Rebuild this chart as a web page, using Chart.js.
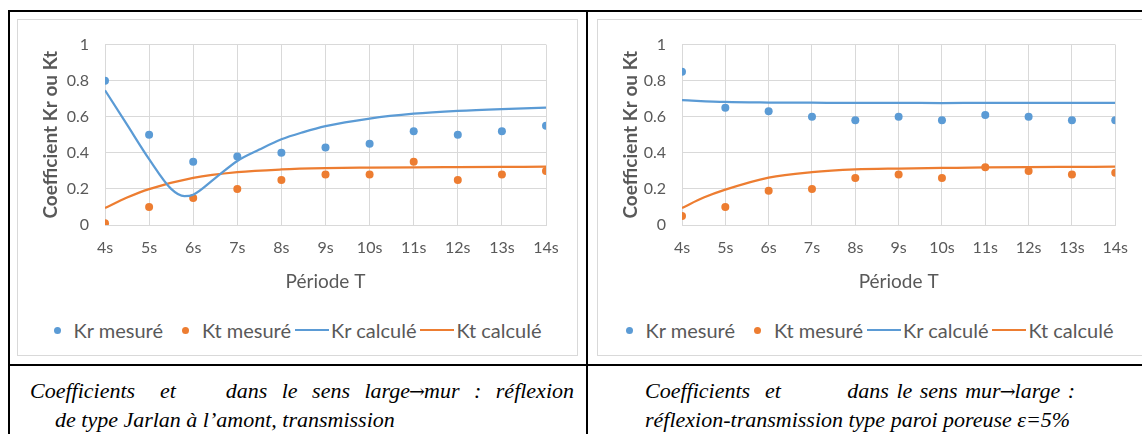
<!DOCTYPE html>
<html>
<head>
<meta charset="utf-8">
<script src="https://cdn.jsdelivr.net/npm/chart.js@4.4.1/dist/chart.umd.min.js"></script>
<style>
  body { margin: 0; width: 1142px; height: 434px; background: #fff; position: relative; overflow: hidden; }
  .rule { position: absolute; background: #000; }
  .box { position: absolute; border: 1px solid #d9d9d9; box-sizing: border-box; }
  canvas { position: absolute; }
  .legend { position: absolute; top: 319px; height: 22px; display: flex; justify-content: center; align-items: center;
            font-family: Lato, sans-serif; font-size: 20px; color: #595959; white-space: nowrap; }
  .legend .dot { display: inline-block; width: 7px; height: 7px; border-radius: 50%; margin-right: 13px; }
  .legend .seg { display: inline-block; width: 34px; height: 2px; margin-right: 2px; }
  .legend .item { display: flex; align-items: center; margin-right: 19px; }
  .legend .item.ln { margin-right: 4px; }
  .cap { position: absolute; font-family: 'Liberation Serif', 'Times New Roman', serif; font-style: italic;
         font-size: 22px; line-height: 29px; white-space: nowrap; color: #000; }
  .arr { font-family: 'DejaVu Serif', serif; font-style: normal; font-size: 19px; margin: 0 -1px; }
</style>
</head>
<body>
<div class="rule" style="left:8px; top:10px; width:1134px; height:2px"></div>
<div class="rule" style="left:8px; top:10px; width:2px; height:424px"></div>
<div class="rule" style="left:586px; top:10px; width:2px; height:424px"></div>
<div class="rule" style="left:8px; top:364px; width:1134px; height:2px"></div>

<div class="box" style="left:17px; top:19px; width:561px; height:337px"></div>
<div class="box" style="left:597px; top:19px; width:546px; height:337px"></div>

<canvas id="chartA" width="560" height="274" style="left:17px; top:19px"></canvas>
<canvas id="chartB" width="544" height="274" style="left:597px; top:19px"></canvas>

<div class="legend" id="legendA" style="left:27px; width:560px"></div>
<div class="legend" id="legendB" style="left:607px; width:544px"></div>

<div class="cap" style="left:30px; top:376px">Coefficients</div>
<div class="cap" style="left:160px; top:376px">et</div>
<div class="cap" style="right:568px; top:376px; word-spacing:9px">dans le sens large<span class="arr">→</span>mur : réflexion</div>
<div class="cap" style="left:55px; top:405px">de type Jarlan à l’amont, transmission</div>

<div class="cap" style="left:645px; top:376px">Coefficients</div>
<div class="cap" style="left:765px; top:376px">et</div>
<div class="cap" style="right:67px; top:376px; word-spacing:2px">dans le sens mur<span class="arr">→</span>large :</div>
<div class="cap" style="left:645px; top:405px">réflexion-transmission type paroi poreuse ε=5%</div>

<script>
// periods (s) and tick labels
const periods = [4, 5, 6, 7, 8, 9, 10, 11, 12, 13, 14]
const periodLabels = ['4s', '5s', '6s', '7s', '8s', '9s', '10s', '11s', '12s', '13s', '14s']
const seriesNames = ['Kr mesuré', 'Kt mesuré', 'Kr calculé', 'Kt calculé']

// left chart : large -> mur
const krMesureA = [0.80, 0.50, 0.35, 0.38, 0.40, 0.43, 0.45, 0.52, 0.50, 0.52, 0.55]
const ktMesureA = [0.01, 0.10, 0.15, 0.20, 0.25, 0.28, 0.28, 0.35, 0.25, 0.28, 0.30]
const krCalcPeriodsA = [4, 4.5, 5, 5.5, 5.8, 6, 6.5, 7, 7.5, 8, 8.5, 9, 10, 11, 12, 13, 14]
const krCalculeA = [0.747, 0.556, 0.365, 0.20, 0.16, 0.168, 0.26, 0.355, 0.418, 0.475, 0.515, 0.548, 0.59, 0.617, 0.633, 0.643, 0.65]
const ktCalcPeriodsA = [4, 4.5, 5, 6, 7, 8, 9, 10, 11, 12, 13, 14]
const ktCalculeA = [0.094, 0.152, 0.199, 0.261, 0.293, 0.308, 0.315, 0.318, 0.32, 0.321, 0.322, 0.323]

// right chart : mur -> large
const krMesureB = [0.85, 0.65, 0.63, 0.60, 0.58, 0.60, 0.58, 0.61, 0.60, 0.58, 0.58]
const ktMesureB = [0.05, 0.10, 0.19, 0.20, 0.26, 0.28, 0.26, 0.32, 0.30, 0.28, 0.29]
const krCalcPeriodsB = [4, 5, 6, 7, 8, 9, 10, 11, 12, 13, 14]
const krCalculeB = [0.692, 0.682, 0.679, 0.678, 0.677, 0.677, 0.676, 0.677, 0.677, 0.677, 0.677]
const ktCalcPeriodsB = [4, 4.5, 5, 6, 7, 8, 9, 10, 11, 12, 13, 14]
const ktCalculeB = [0.094, 0.152, 0.196, 0.263, 0.293, 0.308, 0.313, 0.316, 0.319, 0.321, 0.322, 0.323]

const blue = '#5b9bd5'
const orange = '#ed7d31'
const grey = '#595959'
const gridColor = '#d9d9d9'

const pts = (xs, ys) => xs.map((x, i) => ({ x: x, y: ys[i] }))

function buildChart(id, krM, ktM, krCx, krC, ktCx, ktC, padLeft, yWidth, padRight) {
  const datasets = [
    { label: seriesNames[0], data: pts(periods, krM), showLine: false, pointRadius: 4, pointHoverRadius: 4,
      backgroundColor: blue, borderColor: blue, borderWidth: 0, order: 2 },
    { label: seriesNames[1], data: pts(periods, ktM), showLine: false, pointRadius: 4, pointHoverRadius: 4,
      backgroundColor: orange, borderColor: orange, borderWidth: 0, order: 2 },
    { label: seriesNames[2], data: pts(krCx, krC), showLine: true, pointRadius: 0, borderColor: blue,
      borderWidth: 2.25, cubicInterpolationMode: 'monotone', order: 1 },
    { label: seriesNames[3], data: pts(ktCx, ktC), showLine: true, pointRadius: 0, borderColor: orange,
      borderWidth: 2.25, cubicInterpolationMode: 'monotone', order: 1 }
  ]
  const chart = new Chart(document.getElementById(id), {
    type: 'scatter',
    data: { datasets: datasets },
    options: {
      responsive: false,
      animation: false,
      events: [],
      layout: { padding: { left: padLeft, right: padRight, top: 18.5, bottom: 0 } },
      plugins: { legend: { display: false }, tooltip: { enabled: false } },
      scales: {
        x: {
          type: 'linear', min: 4, max: 14,
          afterFit: (s) => { s.height = 68 },
          grid: { color: gridColor, drawTicks: false },
          border: { color: gridColor },
          ticks: {
            stepSize: 1, padding: 13, maxRotation: 0, autoSkip: false, color: grey,
            font: { family: 'Lato', size: 16 },
            callback: (v) => periodLabels[periods.indexOf(v)]
          },
          title: { display: true, text: 'Période T', color: grey, padding: 0,
                   font: { family: 'Lato', size: 19 } }
        },
        y: {
          min: 0, max: 1,
          afterFit: (s) => { s.width = yWidth },
          grid: { color: gridColor, drawTicks: false },
          border: { display: false },
          ticks: {
            stepSize: 0.2, padding: 16, color: grey,
            font: { family: 'Lato', size: 16 },
            callback: (v) => String(+v.toFixed(1))
          },
          title: { display: true, text: 'Coefficient Kr ou Kt', color: grey, padding: 0,
                   font: { family: 'Lato', size: 19, weight: 'bold' } }
        }
      }
    }
  })
  return chart
}

function buildLegend(id) {
  const el = document.getElementById(id)
  const colors = [blue, orange, blue, orange]
  seriesNames.forEach((name, i) => {
    const item = document.createElement('span')
    const isLine = i >= 2
    item.className = 'item' + (i === 1 || i === 2 ? ' ln' : '')
    const mark = document.createElement('span')
    mark.className = isLine ? 'seg' : 'dot'
    mark.style.background = colors[i]
    const txt = document.createElement('span')
    txt.textContent = name
    item.appendChild(mark)
    item.appendChild(txt)
    el.appendChild(item)
  })
}

buildChart('chartA', krMesureA, ktMesureA, krCalcPeriodsA, krCalculeA, ktCalcPeriodsA, ktCalculeA, 22, 66, 31)
buildChart('chartB', krMesureB, ktMesureB, krCalcPeriodsB, krCalculeB, ktCalcPeriodsB, ktCalculeB, 22, 63, 24)
buildLegend('legendA')
buildLegend('legendB')
</script>
</body>
</html>
